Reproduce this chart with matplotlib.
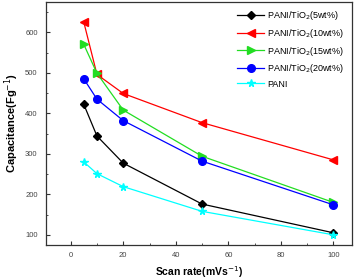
import matplotlib
matplotlib.use("Agg")
import matplotlib.pyplot as plt
from matplotlib.ticker import MultipleLocator

plt.rcParams['font.family'] = ['Liberation Sans', 'DejaVu Sans']

scan_rate = [5, 10, 20, 50, 100]
labels = ["PANI/TiO$_2$(5wt%)", "PANI/TiO$_2$(10wt%)", "PANI/TiO$_2$(15wt%)",
          "PANI/TiO$_2$(20wt%)", "PANI"]
cap_5wt = [422, 344, 277, 176, 105]
cap_10wt = [625, 496, 449, 377, 285]
cap_15wt = [570, 499, 408, 294, 180]
cap_20wt = [485, 435, 382, 282, 174]
cap_pani = [280, 251, 219, 158, 100]

series = [cap_5wt, cap_10wt, cap_15wt, cap_20wt, cap_pani]
colors = ["black", "red", "#22dd22", "blue", "cyan"]
markers = ["D", "<", ">", "o", "*"]
msizes = [4, 5.5, 5.5, 5.5, 5.5]

fig = plt.figure(figsize=(3.62, 2.79), dpi=100)
ax = fig.add_axes([0.127, 0.122, 0.845, 0.871])
for ys, c, m, ms, lab in zip(series, colors, markers, msizes, labels):
    ax.plot(scan_rate, ys, color=c, marker=m, markersize=ms, linewidth=0.9, label=lab)

ax.set_xlim(-9.4, 107)
ax.set_ylim(75, 675)
ax.xaxis.set_major_locator(MultipleLocator(20))
ax.xaxis.set_minor_locator(MultipleLocator(10))
ax.yaxis.set_major_locator(MultipleLocator(100))
ax.yaxis.set_minor_locator(MultipleLocator(50))
ax.tick_params(which="both", direction="in", labelsize=5.5, labelcolor="#444444", color="#333333")
ax.tick_params(which="major", length=3, width=0.8)
ax.tick_params(which="minor", length=1.5, width=0.6)
for s in ax.spines.values():
    s.set_color("#333333")
    s.set_linewidth(0.9)
ax.tick_params(axis="x", pad=5)
ax.tick_params(axis="y", pad=6)

ax.set_xlabel("Scan rate(mVs$^{-1}$)", fontsize=7.5, fontweight="bold", labelpad=4)
ax.set_ylabel("Capacitance(Fg$^{-1}$)", fontsize=8, fontweight="bold", labelpad=3)
ax.legend(loc="upper right", frameon=False, fontsize=6.5, handlelength=3.0,
          handletextpad=0.3, labelspacing=0.5, borderaxespad=0.3,
          bbox_to_anchor=(0.995, 0.995))

fig.savefig("out.png", dpi=100)
